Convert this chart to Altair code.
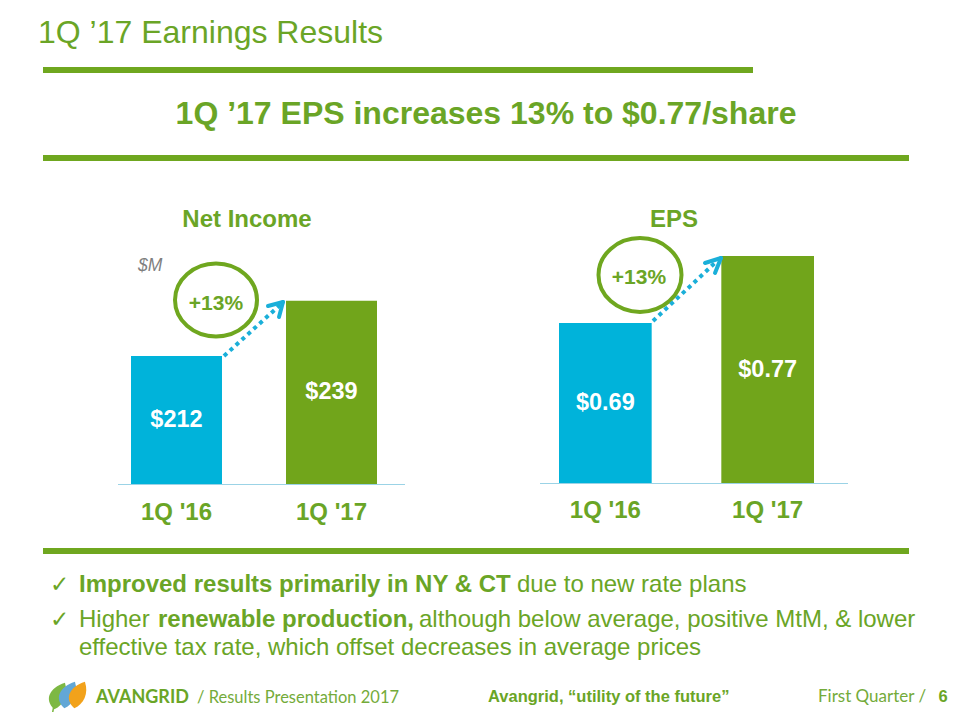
import altair as alt
import pandas as pd

# ---- data ----
quarters = ["1Q '16", "1Q '17"]
net_income = [212, 239]
net_labels = ["$212", "$239"]
eps_values = [0.69, 0.77]
eps_labels = ["$0.69", "$0.77"]

# ---- style ----
OX, OY = 8, 8
GREEN = "#6AA526"
LINE_GREEN = "#6FA71F"
BAR_GREEN = "#71A51B"
BAR_BLUE = "#00B3DA"
ARROW_BLUE = "#1AAFD9"
BASE_BLUE = "#9BD3E6"
FONT = "Liberation Sans"

NI_BASE = 149.5
EPS_BASE = 0.499

DUMMY = pd.DataFrame({"d": [0]})


def txt(s, x, y, size, color=GREEN, bold=True, align="left", italic=False, font=FONT, weight=None):
    return alt.Chart(DUMMY).mark_text(
        text=s, align=align, baseline="alphabetic", fontSize=size,
        fontWeight=weight if weight is not None else ("bold" if bold else "normal"),
        fontStyle="italic" if italic else "normal", font=font, color=color,
    ).encode(x=alt.value(x - OX), y=alt.value(y - OY))


def seg(x1, y1, x2, y2, color, w, dash=None, cap="butt"):
    kw = dict(color=color, strokeWidth=w, strokeCap=cap)
    if dash:
        kw["strokeDash"] = dash
    return alt.Chart(DUMMY).mark_rule(**kw).encode(
        x=alt.value(x1 - OX), y=alt.value(y1 - OY),
        x2=alt.value(x2 - OX), y2=alt.value(y2 - OY))


ELLIPSE = "M -1 0 A 1 0.89 0 1 0 1 0 A 1 0.89 0 1 0 -1 0 Z"
LEAF = "M -0.2 1 C -1 0.3 -0.6 -0.6 0.6 -1 C 0.9 -0.1 0.5 0.7 -0.2 1 Z"


def shape(path, x, y, size, fill=None, stroke=None, sw=0):
    kw = dict(shape=path, size=size, opacity=1)
    if fill:
        kw.update(filled=True, fill=fill, strokeWidth=0)
    else:
        kw.update(filled=False, stroke=stroke, strokeWidth=sw)
    return alt.Chart(DUMMY).mark_point(**kw).encode(x=alt.value(x - OX), y=alt.value(y - OY))


color_scale = alt.Scale(domain=quarters, range=[BAR_BLUE, BAR_GREEN])


def panel(values, labels, base, xrange, pad, yrange, cat_y):
    df = pd.DataFrame({"q": quarters, "v": values, "lab": labels})
    xs = alt.Scale(domain=quarters, range=xrange, paddingInner=pad, paddingOuter=0)
    ys = alt.Scale(domain=[base, max(values)], range=yrange, zero=False, nice=False)
    X = alt.X("q:N", scale=xs, axis=None)
    bars = alt.Chart(df).mark_bar().encode(
        x=X, y=alt.Y("v:Q", scale=ys, axis=None), y2=alt.datum(base),
        color=alt.Color("q:N", scale=color_scale, legend=None))
    vals = alt.Chart(df).transform_calculate(mid=f"(datum.v + {base}) / 2").mark_text(
        font=FONT, fontSize=23.5, fontWeight="bold", color="white", baseline="middle"
    ).encode(x=X, y=alt.Y("mid:Q", scale=ys, axis=None), text="lab:N")
    cats = alt.Chart(df).mark_text(
        font=FONT, fontSize=24, fontWeight="bold", color=GREEN, baseline="alphabetic"
    ).encode(x=X, y=alt.value(cat_y - OY), text="q:N")
    return alt.layer(bars, vals, cats)


net_panel = panel(net_income, net_labels, NI_BASE, [123, 369], 0.413, [476, 292.7], 520)
eps_panel = panel(eps_values, eps_labels, EPS_BASE, [551, 806], 0.429, [475, 248], 518)

layers = [
    # header
    txt("1Q ’17 Earnings Results", 38, 43, 32, bold=False),
    seg(43, 70, 753, 70, LINE_GREEN, 6),
    txt("1Q ’17 EPS increases 13% to $0.77/share", 486, 124, 32, align="center"),
    seg(43, 158, 909, 158, LINE_GREEN, 6),
    # panel titles
    txt("Net Income", 247, 227, 24, align="center"),
    txt("EPS", 674, 227, 24, align="center"),
    txt("$M", 138, 271, 17.5, color="#7F7F7F", bold=False, italic=True),
    # baselines
    seg(118, 484.5, 405, 484.5, BASE_BLUE, 1.2),
    seg(540, 483.5, 848, 483.5, BASE_BLUE, 1.2),
]

layers += [net_panel, eps_panel]

layers += [
    # growth ellipses
    shape(ELLIPSE, 216, 300, 6724, stroke=LINE_GREEN, sw=4),
    txt("+13%", 216, 310, 21, align="center"),
    shape(ELLIPSE, 640, 275, 6889, stroke=LINE_GREEN, sw=4),
    txt("+13%", 639, 284, 21, align="center"),
    # dotted arrows
    seg(224, 356, 280, 305, ARROW_BLUE, 4, dash=[4, 4]),
    seg(283, 302, 268, 306, ARROW_BLUE, 4, cap="round"),
    seg(283, 302, 279, 317, ARROW_BLUE, 4, cap="round"),
    seg(653, 321, 717, 261, ARROW_BLUE, 4, dash=[4, 4]),
    seg(721, 258, 705, 263, ARROW_BLUE, 4, cap="round"),
    seg(721, 258, 715, 273, ARROW_BLUE, 4, cap="round"),
    # bottom separator
    seg(43, 551, 909, 551, LINE_GREEN, 6),
    # bullets
    txt("✓", 50, 592, 23, bold=False, font="DejaVu Sans"),
    txt("Improved results primarily in NY & CT", 79, 592, 24),
    txt("due to new rate plans", 517, 592, 24, bold=False),
    txt("✓", 50, 627, 23, bold=False, font="DejaVu Sans"),
    txt("Higher", 79, 627, 24, bold=False),
    txt("renewable production,", 158, 627, 24),
    txt("although below average, positive MtM, & lower", 419, 627, 24, bold=False),
    txt("effective tax rate, which offset decreases in average prices", 79, 655, 24, bold=False),
    # footer logo
    seg(54, 705, 52, 716, "#7DB843", 1.5),
    shape(LEAF, 57, 696, 700, fill="#7DB843"),
    shape(LEAF, 67, 695, 700, fill="#62A7D6"),
    shape(LEAF, 77, 695, 700, fill="#F2A21B"),
    txt("AVANGRID", 96, 703, 18, font="Lato"),
    txt("/ Results Presentation 2017", 197, 703, 16.5, bold=False, font="Lato", color="#74AB3A"),
    txt("Avangrid, “utility of the future”", 488, 702, 16.5),
    txt("First Quarter /", 818, 702, 17, bold=False, font="Lato", color="#74AB3A"),
    txt("6", 943, 702, 16.5, align="center"),
]

chart = alt.layer(*layers).resolve_scale(x="independent", y="independent").properties(
    width=944, height=704, autosize=alt.AutoSizeParams(type="none"), padding=0
).configure_view(strokeWidth=0)

chart.save("out.html", embed_options={"renderer": "svg", "actions": False})
